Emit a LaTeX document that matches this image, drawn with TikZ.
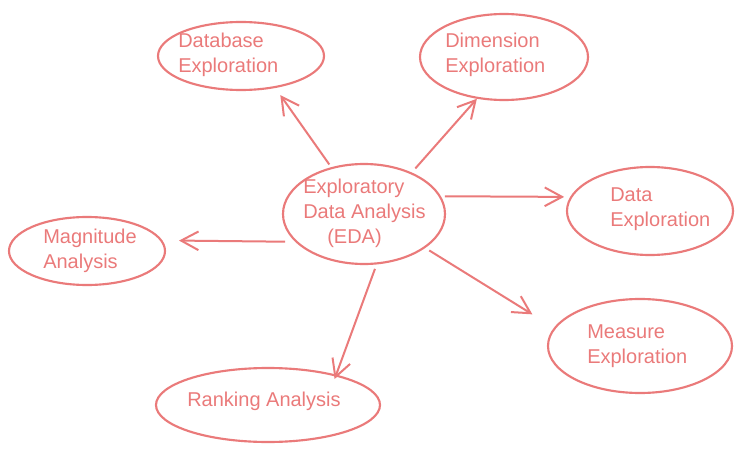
\documentclass[tikz,border=0pt]{standalone}
\usepackage{fontspec}
\setmainfont{Liberation Sans}
\usetikzlibrary{shapes.geometric,arrows.meta}
\definecolor{sk}{RGB}{234,122,122}
\tikzset{
  bub/.style={ellipse, draw=sk, line width=1.6pt, inner sep=0pt},
  lbl/.style={anchor=base west, inner sep=0pt, text=sk, font=\fontsize{15}{18}\selectfont},
  arr/.style={draw=sk, line width=1.5pt, -{Straight Barb[length=13pt,width=14pt,line width=1.5pt]}},
}
\begin{document}
\begin{tikzpicture}[x=0.75pt,y=-0.75pt]
\useasboundingbox (0,0) rectangle (743,453);
% bubbles
\node[bub, minimum width=124.5pt, minimum height=51pt] (db) at (241,56) {};
\node[bub, minimum width=126pt, minimum height=64.5pt] (dim) at (504,57) {};
\node[bub, minimum width=121.5pt, minimum height=75pt] (eda) at (364,214) {};
\node[bub, minimum width=124.5pt, minimum height=66pt] (data) at (650,211) {};
\node[bub, minimum width=117pt, minimum height=51pt] (mag) at (87,251) {};
\node[bub, minimum width=138pt, minimum height=70.5pt] (meas) at (640,346) {};
\node[bub, minimum width=168pt, minimum height=55.5pt] (rank) at (268,405) {};
% labels
\node[lbl] (db1) at (178,48) {Database};
\node[lbl] (db2) at (178,73) {Exploration};
\node[lbl] (dim1) at (445,48) {Dimension};
\node[lbl] (dim2) at (445,73) {Exploration};
\node[lbl] (eda1) at (303,193) {Exploratory};
\node[lbl] (eda2) at (303,218) {Data Analysis};
\node[lbl] (eda3) at (327,243) {(EDA)};
\node[lbl] (data1) at (610,201) {Data};
\node[lbl] (data2) at (610,226) {Exploration};
\node[lbl] (mag1) at (43,243) {Magnitude};
\node[lbl] (mag2) at (43,268) {Analysis};
\node[lbl] (meas1) at (587,338) {Measure};
\node[lbl] (meas2) at (587,363) {Exploration};
\node[lbl] (rank1) at (187,406) {Ranking Analysis};
% connectors
\draw[arr, shorten <=2.5pt, shorten >=6.5pt] (eda.125) -- (db.-43);
\draw[arr, shorten <=4pt, shorten >=0pt] (eda.41) -- (dim.-123);
\draw[arr, shorten <=3pt, shorten >=4.5pt] (eda.13.5) -- (data.170);
\draw[arr, shorten <=7.5pt, shorten >=12.5pt] (eda.202) -- (mag.8);
\draw[arr, shorten <=3.5pt, shorten >=-3.5pt] (eda.-76.5) -- (rank.24);
\draw[arr, shorten <=3.5pt, shorten >=19pt] (eda.-29.4) -- (meas.168);
\end{tikzpicture}
\end{document}
